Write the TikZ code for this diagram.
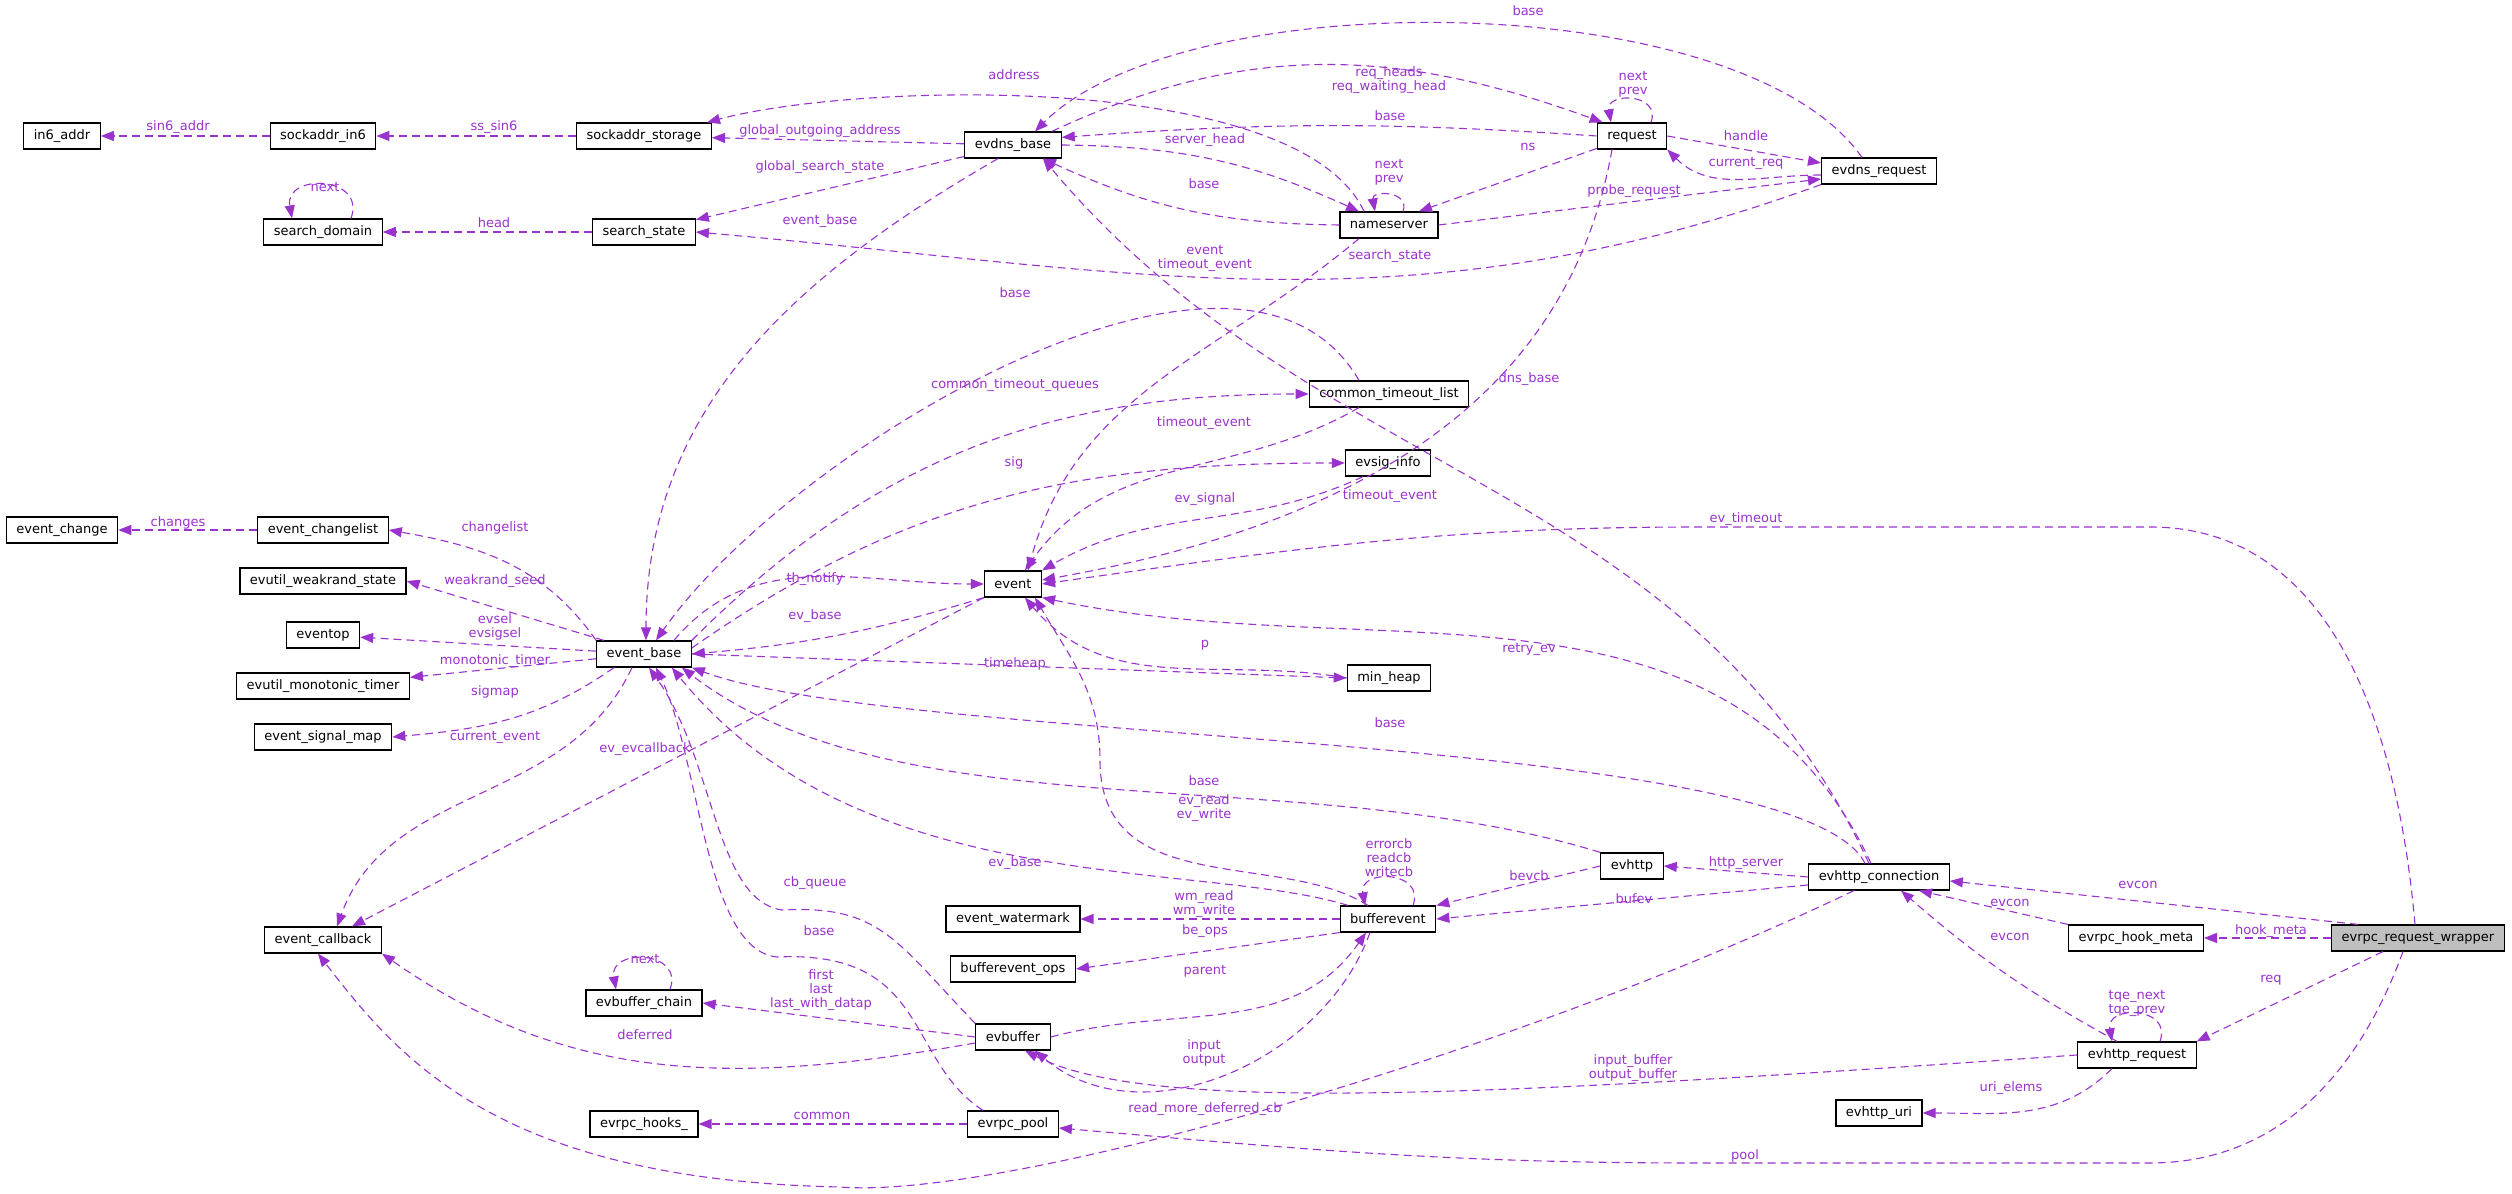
\documentclass[tikz,border=0pt]{standalone}
\usepackage{fontspec}
\setmainfont{DejaVu Sans}
\usepackage{tikz}
\usetikzlibrary{arrows.meta}
\definecolor{edgecol}{RGB}{154,50,205}
\tikzset{
cls/.style={draw, line width=0.12pt, fill=white, font=\fontsize{1.3pt}{1.5pt}\selectfont, minimum height=2.6pt, inner xsep=1pt, inner ysep=0.2pt},
focus/.style={cls, fill=black!25},
edge/.style={edgecol, line width=0.11pt, dash pattern=on 0.8pt off 0.5pt, -{Triangle[length=1.3pt,width=1pt]}},
lbl/.style={font=\fontsize{1.3pt}{1.4pt}\selectfont, align=center, inner sep=0pt}
}

\begin{document}
\begin{tikzpicture}[x=0.1pt,y=0.1pt]
\useasboundingbox (0,0) rectangle (2512,-1194);
\node[cls] (inaddr) at (62,-136) {in6\_addr};
\node[cls] (sockin) at (323,-136) {sockaddr\_in6};
\node[cls] (sockstore) at (644,-136) {sockaddr\_storage};
\node[cls] (sdomain) at (323,-232) {search\_domain};
\node[cls] (sstate) at (644,-232) {search\_state};
\node[cls] (evdns) at (1013,-145) {evdns\_base};
\node[cls] (request) at (1632,-136) {request};
\node[cls] (nserver) at (1389,-225) {nameserver};
\node[cls] (evdnsreq) at (1879,-171) {evdns\_request};
\node[cls] (ctlist) at (1389,-394) {common\_timeout\_list};
\node[cls] (siginfo) at (1388,-463) {evsig\_info};
\node[cls] (event) at (1013,-584) {event};
\node[cls] (change) at (62,-530) {event\_change};
\node[cls] (changelist) at (323,-530) {event\_changelist};
\node[cls] (weakrand) at (323,-581) {evutil\_weakrand\_state};
\node[cls] (eventop) at (323,-635) {eventop};
\node[cls] (base) at (644,-654) {event\_base};
\node[cls] (montimer) at (323,-686) {evutil\_monotonic\_timer};
\node[cls] (sigmap) at (323,-737) {event\_signal\_map};
\node[cls] (callback) at (323,-940) {event\_callback};
\node[cls] (chain) at (644,-1003) {evbuffer\_chain};
\node[cls] (hooks) at (644,-1124) {evrpc\_hooks\_};
\node[cls] (minheap) at (1389,-678) {min\_heap};
\node[cls] (evhttp) at (1632,-866) {evhttp};
\node[cls] (watermark) at (1013,-919) {event\_watermark};
\node[cls] (bev) at (1388,-919) {bufferevent};
\node[cls] (bevops) at (1013,-969) {bufferevent\_ops};
\node[cls] (evbuf) at (1013,-1037) {evbuffer};
\node[cls] (pool) at (1013,-1124) {evrpc\_pool};
\node[cls] (conn) at (1879,-877) {evhttp\_connection};
\node[cls] (hookmeta) at (2136,-938) {evrpc\_hook\_meta};
\node[focus] (wrapper) at (2418,-938) {evrpc\_request\_wrapper};
\node[cls] (httpreq) at (2137,-1055) {evhttp\_request};
\node[cls] (uri) at (1879,-1113) {evhttp\_uri};
% ---- top part
\draw[edge] (sockin) -- (inaddr) node[lbl] at (178,-127) {sin6\_addr};
\draw[edge] (sockstore) -- (sockin) node[lbl] at (494,-127) {ss\_sin6};
\draw[edge] ([xshift=2.8pt]sdomain.north) to[out=70,in=100,looseness=2] ([xshift=-3.1pt]sdomain.north) node[lbl] at (325,-187) {next};
\draw[edge] (sstate) -- (sdomain) node[lbl] at (494,-223) {head};
\draw[edge] (evdns) -- (sockstore) node[lbl] at (820,-131) {global\_outgoing\_address};
\draw[edge] ([xshift=-2.5pt]nserver.north) to[out=115,in=15,looseness=0.6] ([xshift=-0.5pt]sockstore.north east) node[lbl] at (1014,-75) {address};
\draw[edge] (evdns) -- (sstate) node[lbl] at (820,-167) {global\_search\_state};
\draw[edge] (evdnsreq.south west) to[out=200,in=-5] (sstate.east) node[lbl] at (1390,-256) {search\_state};
\draw[edge] ([xshift=-1.5pt]evdns.south) to[out=210,in=90] ([xshift=0.2pt]base.north) node[lbl] at (820,-221) {event\_base};
\draw[edge] ([xshift=-1pt]evdns.north east) to[out=25,in=160] ([xshift=0.6pt]request.north west) node[lbl] at (1389,-80) {req\_heads\\req\_waiting\_head};
\draw[edge] (request.west) to[bend right=4] ([yshift=-0.6pt]evdns.north east) node[lbl] at (1390,-116) {base};
\draw[edge] ([xshift=-1.7pt]evdnsreq.north) to[out=125,in=45,looseness=0.65] ([xshift=2.2pt]evdns.north) node[lbl] at (1528,-11) {base};
\draw[edge] (evdns.east) to[bend left=12] ([xshift=-3pt]nserver.north) node[lbl] at (1205,-140) {server\_head};
\draw[edge] (nserver.west) to[bend left=12] ([xshift=3pt]evdns.south) node[lbl] at (1204,-184) {base};
\draw[edge] ([xshift=1.4pt]nserver.north) to[out=70,in=100,looseness=2] ([xshift=-1.4pt]nserver.north) node[lbl] at (1389,-172) {next\\prev};
\draw[edge] (request) -- ([xshift=3pt]nserver.north) node[lbl] at (1528,-147) {ns};
\draw[edge] ([xshift=1.9pt]request.north) to[out=70,in=100,looseness=2] ([xshift=-2.1pt]request.north) node[lbl] at (1633,-84) {next\\prev};
\draw[edge] (request.east) -- ([yshift=0.8pt]evdnsreq.west) node[lbl] at (1746,-136) {handle};
\draw[edge] ([yshift=-0.4pt]evdnsreq.west) to[out=180,in=-45] (request.south east) node[lbl] at (1746,-163) {current\_req};
\draw[edge] (nserver.east) -- ([yshift=-0.8pt]evdnsreq.west) node[lbl] at (1634,-191) {probe\_request};
\draw[edge] ([xshift=-3pt]nserver.south) to[out=220,in=75] ([xshift=1.5pt]event.north) node[lbl] at (1205,-258) {event\\timeout\_event};
\draw[edge] ([xshift=-1pt]conn.north) to[out=115,in=-50] ([xshift=3pt]evdns.south) node[lbl] at (1529,-379) {dns\_base};
% ---- middle part
\draw[edge] ([xshift=-3pt]ctlist.north) to[out=120,in=55,looseness=0.8] ([xshift=1.2pt]base.north) node[lbl] at (1015,-293) {base};
\draw[edge] (base.north east) to[out=45,in=180] (ctlist.west) node[lbl] at (1015,-385) {common\_timeout\_queues};
\draw[edge] ([xshift=-3pt]ctlist.south) to[out=210,in=55] ([xshift=1.2pt]event.north) node[lbl] at (1204,-423) {timeout\_event};
\draw[edge] ([yshift=0.6pt]base.east) to[out=35,in=180] (siginfo.west) node[lbl] at (1014,-463) {sig};
\draw[edge] ([xshift=-2.5pt]siginfo.south) to[out=205,in=30] (event.north east) node[lbl] at (1205,-499) {ev\_signal};
\draw[edge] ([xshift=-2pt]request.south) to[out=260,in=10] ([yshift=0.4pt]event.east) node[lbl] at (1390,-496) {timeout\_event};
\draw[edge] ([xshift=-0.3pt]wrapper.north) to[out=95,in=0] (2150,-527) -- (1700,-527) to[out=180,in=8] (event.east) node[lbl] at (1746,-519) {ev\_timeout};
\draw[edge] ([xshift=3pt]base.north) to[out=50,in=180] (event.west) node[lbl] at (815,-579) {th\_notify};
\draw[edge] (event.south west) to[bend left=6] (base.east) node[lbl] at (815,-616) {ev\_base};
\draw[edge] (base.north west) to[out=125,in=-10] (changelist.east) node[lbl] at (495,-528) {changelist};
\draw[edge] (changelist) -- (change) node[lbl] at (178,-523) {changes};
\draw[edge] ([xshift=-4pt]base.north) -- (weakrand.east) node[lbl] at (495,-581) {weakrand\_seed};
\draw[edge] (base) -- (eventop) node[lbl] at (495,-627) {evsel\\evsigsel};
\draw[edge] (base) -- (montimer) node[lbl] at (495,-661) {monotonic\_timer};
\draw[edge] ([xshift=-3pt]base.south) to[out=215,in=5] (sigmap.east) node[lbl] at (495,-692) {sigmap};
\draw[edge] ([xshift=-1.2pt]base.south) to[out=245,in=70] ([xshift=1.4pt]callback.north) node[lbl] at (495,-737) {current\_event};
\draw[edge] (event.south west) -- ([xshift=-3pt]callback.north east) node[lbl] at (645,-749) {ev\_evcallback};
\draw[edge] (base.east) -- (minheap.west) node[lbl] at (1015,-664) {timeheap};
\draw[edge] (minheap.west) to[out=170,in=-50] ([xshift=1.2pt]event.south) node[lbl] at (1205,-645) {p};
\draw[edge] ([xshift=-0.8pt]conn.north) to[out=115,in=-12] (event.south east) node[lbl] at (1529,-649) {retry\_ev};
\draw[edge] ([xshift=-1.4pt]conn.north) .. controls (1800,-731) and (900,-745) .. (base.south east) node[lbl] at (1390,-723) {base};
\draw[edge] (evhttp.north west) .. controls (1300,-760) and (900,-835) .. ([xshift=-1pt]base.south east) node[lbl] at (1204,-781) {base};
% ---- lower part
\draw[edge] ([xshift=-2pt]bev.north) .. controls (1280,-850) and (1100,-900) .. (1100,-760) to[out=90,in=-60] ([xshift=2.2pt]event.south) node[lbl] at (1204,-808) {ev\_read\\ev\_write};
\draw[edge] ([xshift=-4pt]bev.north) .. controls (1200,-860) and (860,-900) .. ([xshift=-2pt]base.south east) node[lbl] at (1015,-863) {ev\_base};
\draw[edge] ([xshift=2.5pt]bev.north) to[out=70,in=100,looseness=2] ([xshift=-2.3pt]bev.north) node[lbl] at (1389,-858) {errorcb\\readcb\\writecb};
\draw[edge] (evhttp.west) -- (bev.north east) node[lbl] at (1529,-876) {bevcb};
\draw[edge] (conn.west) -- (evhttp.east) node[lbl] at (1746,-863) {http\_server};
\draw[edge] ([yshift=-0.8pt]conn.west) -- (bev.east) node[lbl] at (1634,-899) {bufev};
\draw[edge] (bev) -- (watermark) node[lbl] at (1204,-904) {wm\_read\\wm\_write};
\draw[edge] (bev.south west) -- (bevops.east) node[lbl] at (1205,-931) {be\_ops};
\draw[edge] (evbuf.east) to[out=15,in=235] ([xshift=-2.2pt]bev.south) node[lbl] at (1205,-971) {parent};
\draw[edge] ([xshift=-1.8pt]bev.south) to[out=-110,in=-40] ([xshift=2.2pt]evbuf.south) node[lbl] at (1204,-1053) {input\\output};
\draw[edge] (httpreq.west) .. controls (1500,-1095) and (1150,-1115) .. ([xshift=1.2pt]evbuf.south) node[lbl] at (1633,-1068) {input\_buffer\\output\_buffer};
\draw[edge] (evbuf.west) -- (chain.east) node[lbl] at (821,-990) {first\\last\\last\_with\_datap};
\draw[edge] ([xshift=2.6pt]chain.north) to[out=70,in=100,looseness=2] ([xshift=-2.8pt]chain.north) node[lbl] at (645,-959) {next};
\draw[edge] ([yshift=-0.6pt]evbuf.west) to[out=190,in=-35] (callback.south east) node[lbl] at (645,-1035) {deferred};
\draw[edge] (evbuf.north west) .. controls (895,-940) and (880,-905) .. (782,-910) .. controls (715,-900) and (715,-760) .. ([xshift=0.5pt]base.south) node[lbl] at (815,-883) {cb\_queue};
\draw[edge] ([xshift=-3pt]pool.north) .. controls (905,-1060) and (930,-950) .. (777,-957) .. controls (705,-950) and (700,-760) .. ([xshift=1.2pt]base.south) node[lbl] at (819,-931) {base};
\draw[edge] (pool) -- (hooks) node[lbl] at (822,-1116) {common};
\draw[edge] ([xshift=-2.5pt]conn.south) .. controls (1500,-1060) and (1000,-1200) .. (840,-1187) .. controls (500,-1180) and (400,-1060) .. ([xshift=-0.5pt]callback.south) node[lbl] at (1205,-1109) {read\_more\_deferred\_cb};
\draw[edge] ([xshift=-1.5pt]wrapper.south) to[out=-110,in=0] (2150,-1163) -- (1700,-1163) to[out=180,in=-5] ([yshift=-0.4pt]pool.east) node[lbl] at (1745,-1156) {pool};
\draw[edge] ([xshift=-6pt]wrapper.north) -- ([yshift=-0.4pt]conn.east) node[lbl] at (2138,-885) {evcon};
\draw[edge] (hookmeta.north west) -- ([xshift=4pt]conn.south) node[lbl] at (2010,-903) {evcon};
\draw[edge] ([xshift=-2pt]httpreq.north) to[bend left=6] ([xshift=2.2pt]conn.south) node[lbl] at (2010,-937) {evcon};
\draw[edge] ([xshift=2.3pt]httpreq.north) to[out=70,in=100,looseness=2] ([xshift=-2.5pt]httpreq.north) node[lbl] at (2137,-1003) {tqe\_next\\tqe\_prev};
\draw[edge] ([xshift=-3.5pt]wrapper.south) -- (httpreq.north east) node[lbl] at (2271,-980) {req};
\draw[edge] (wrapper) -- (hookmeta) node[lbl] at (2271,-931) {hook\_meta};
\draw[edge] ([xshift=-2.5pt]httpreq.south) to[out=225,in=0] (uri.east) node[lbl] at (2011,-1088) {uri\_elems};
\end{tikzpicture}
\end{document}
